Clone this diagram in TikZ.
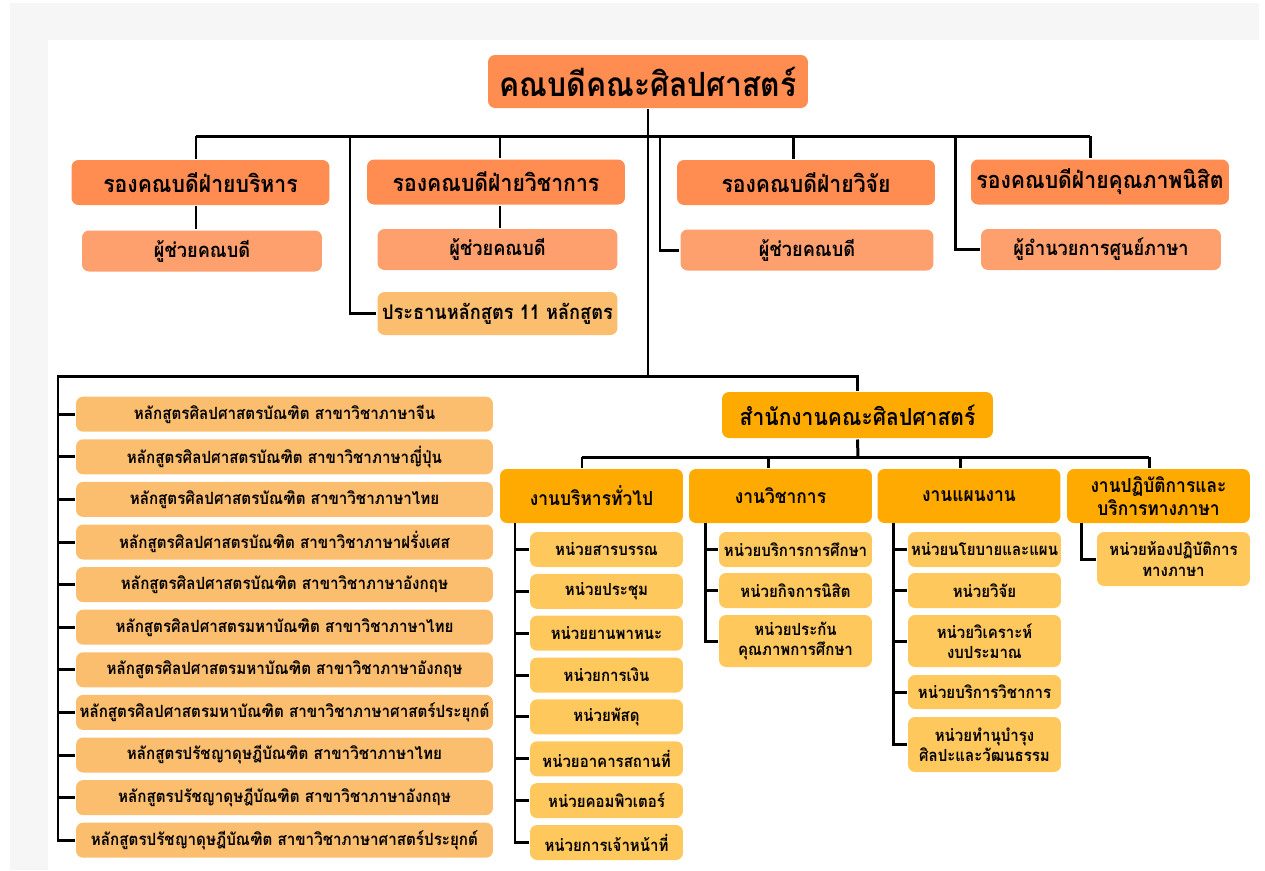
\documentclass[tikz,border=0pt]{standalone}
\usepackage{fontspec}
\newfontfamily\thaifont[Script=Thai,FakeStretch=0.9]{Loma}
\definecolor{bgC}{RGB}{246,246,246}
\definecolor{deanC}{RGB}{255,140,80}
\definecolor{asstC}{RGB}{253,160,110}
\definecolor{progC}{RGB}{251,190,110}
\definecolor{officeC}{RGB}{255,170,0}
\definecolor{unitC}{RGB}{255,200,92}
\begin{document}
\begin{tikzpicture}[x=0.02cm,y=-0.02cm,line width=1.7pt,
  box/.style={rounded corners=4pt,inner sep=0pt,align=center},
  dean/.style={box,fill=deanC,minimum width=6.4cm,minimum height=1.06cm,font=\thaifont\bfseries\fontsize{19}{22}\selectfont},
  vice/.style={box,fill=deanC,minimum width=5.16cm,minimum height=0.9cm,font=\thaifont\bfseries\fontsize{13.4}{16}\selectfont},
  asst/.style={box,fill=asstC,minimum width=4.8cm,minimum height=0.82cm,font=\thaifont\bfseries\fontsize{11.5}{14}\selectfont},
  chair/.style={asst,fill=progC,minimum height=0.86cm},
  prog/.style={box,fill=progC,minimum width=8.34cm,minimum height=0.7cm,font=\thaifont\bfseries\fontsize{9.6}{11.5}\selectfont},
  office/.style={box,fill=officeC,minimum width=5.42cm,minimum height=0.92cm,font=\thaifont\bfseries\fontsize{13.3}{16}\selectfont},
  dept/.style={box,fill=officeC,minimum width=3.66cm,minimum height=1.08cm,font=\thaifont\bfseries\fontsize{11}{13}\selectfont},
  unit/.style={box,fill=unitC,minimum width=3.06cm,minimum height=0.7cm,font=\thaifont\bfseries\fontsize{9.5}{11.5}\selectfont}]
   % 背景
   \useasboundingbox (0,0) rectangle (1265,870);
   \fill[bgC] (10,3) rectangle (1259,40);
   \fill[bgC] (10,40) rectangle (48,870);

   % 学部長・副学部長
   \node[dean] (top) at (648,81.5) {คณบดีคณะศิลปศาสตร์};
   \node[vice] (vA) at (200.5,182.5) {รองคณบดีฝ่ายบริหาร};
   \node[vice] (vB) at (496,182) {รองคณบดีฝ่ายวิชาการ};
   \node[vice] (vC) at (806,182.5) {รองคณบดีฝ่ายวิจัย};
   \node[vice] (vD) at (1100,182) {รองคณบดีฝ่ายคุณภาพนิสิต};
   \node[asst] (aA) at (202,251) {ผู้ช่วยคณบดี};
   \node[asst] (aB) at (497.5,249.5) {ผู้ช่วยคณบดี};
   \node[chair] (pB) at (497.5,313.5) {ประธานหลักสูตร 11 หลักสูตร};
   \node[asst,minimum width=5.06cm] (aC) at (807,250) {ผู้ช่วยคณบดี};
   \node[asst] (aD) at (1101,249.5) {ผู้อำนวยการศูนย์ภาษา};

   \coordinate (bus) at (648,136);
   \coordinate (cA) at (196,136);
   \coordinate (cB) at (500,136);
   \coordinate (cC) at (793,136);
   \coordinate (cD) at (1090,136);
   \draw (top.south) -- (bus);
   \draw (cA) -- (cD);
   \draw (cA) -- (cA |- vA.north);
   \draw (cB) -- (cB |- vB.north);
   \draw (cC) -- (cC |- vC.north);
   \draw (cD) -- (cD |- vD.north);
   \draw (cA |- vA.south) -- (cA |- aA.north);
   \draw (cB |- vB.south) -- (cB |- aB.north);
   \coordinate (bB) at (350,136);
   \coordinate (bC) at (660,136);
   \coordinate (bD) at (955,136);
   \draw (bB) |- (pB.west);
   \draw (bC) |- (aC.west);
   \draw (bD) |- (aD.west);

   % 課程
   \node[prog] (p1) at (284.5,414.2) {หลักสูตรศิลปศาสตรบัณฑิต สาขาวิชาภาษาจีน};
   \node[prog] (p2) at (284.5,456.8) {หลักสูตรศิลปศาสตรบัณฑิต สาขาวิชาภาษาญี่ปุ่น};
   \node[prog] (p3) at (284.5,499.4) {หลักสูตรศิลปศาสตรบัณฑิต สาขาวิชาภาษาไทย};
   \node[prog] (p4) at (284.5,542.0) {หลักสูตรศิลปศาสตรบัณฑิต สาขาวิชาภาษาฝรั่งเศส};
   \node[prog] (p5) at (284.5,584.6) {หลักสูตรศิลปศาสตรบัณฑิต สาขาวิชาภาษาอังกฤษ};
   \node[prog] (p6) at (284.5,627.2) {หลักสูตรศิลปศาสตรมหาบัณฑิต สาขาวิชาภาษาไทย};
   \node[prog] (p7) at (284.5,669.8) {หลักสูตรศิลปศาสตรมหาบัณฑิต สาขาวิชาภาษาอังกฤษ};
   \node[prog] (p8) at (284.5,712.4) {หลักสูตรศิลปศาสตรมหาบัณฑิต สาขาวิชาภาษาศาสตร์ประยุกต์};
   \node[prog] (p9) at (284.5,755.0) {หลักสูตรปรัชญาดุษฎีบัณฑิต สาขาวิชาภาษาไทย};
   \node[prog] (p10) at (284.5,797.6) {หลักสูตรปรัชญาดุษฎีบัณฑิต สาขาวิชาภาษาอังกฤษ};
   \node[prog] (p11) at (284.5,840.2) {หลักสูตรปรัชญาดุษฎีบัณฑิต สาขาวิชาภาษาศาสตร์ประยุกต์};

   \coordinate (trunk) at (648,376);
   \coordinate (pbus) at (58,376);
   \draw (bus) -- (trunk);
   \draw (trunk) -- (pbus) |- (p11.west);
   \foreach \i in {1,...,10} \draw (p\i.west) -- (p\i.west -| pbus);

   % 事務局
   \node[office] (office) at (857.5,415) {สำนักงานคณะศิลปศาสตร์};
   \draw (trunk) -| (office.north);
   \node[dept] (g1) at (591.5,496) {งานบริหารทั่วไป};
   \node[dept] (g2) at (780.5,496) {งานวิชาการ};
   \node[dept] (g3) at (969,496) {งานแผนงาน};
   \node[dept] (g4) at (1158.5,496) {งานปฏิบัติการและ\\บริการทางภาษา};
   \coordinate (obus) at (858,457);
   \coordinate (t1) at (582,457);
   \coordinate (t2) at (768,457);
   \coordinate (t3) at (960,457);
   \coordinate (t4) at (1149,457);
   \draw (office.south) -- (obus);
   \draw (t1) -- (t4);
   \foreach \i in {1,...,4} \draw (t\i) -- (t\i |- g\i.north);

   \node[unit] (ua1) at (606.5,549.5) {หน่วยสารบรรณ};
   \node[unit] (ua2) at (606.5,591.4) {หน่วยประชุม};
   \node[unit] (ua3) at (606.5,633.2) {หน่วยยานพาหนะ};
   \node[unit] (ua4) at (606.5,675.1) {หน่วยการเงิน};
   \node[unit] (ua5) at (606.5,716.9) {หน่วยพัสดุ};
   \node[unit] (ua6) at (606.5,758.8) {หน่วยอาคารสถานที่};
   \node[unit] (ua7) at (606.5,800.6) {หน่วยคอมพิวเตอร์};
   \node[unit] (ua8) at (606.5,842.5) {หน่วยการเจ้าหน้าที่};
   \coordinate (sA) at (515,523);
   \draw (sA) |- (ua8.west);
   \foreach \i in {1,...,7} \draw (ua\i.west) -- (ua\i.west -| sA);

   \node[unit] (ub1) at (795.5,549.5) {หน่วยบริการการศึกษา};
   \node[unit] (ub2) at (795.5,590.5) {หน่วยกิจการนิสิต};
   \node[unit,minimum height=1.04cm] (ub3) at (795.5,641) {หน่วยประกัน\\คุณภาพการศึกษา};
   \coordinate (sB) at (705,523);
   \draw (sB) |- (ub3.west);
   \foreach \i in {1,2} \draw (ub\i.west) -- (ub\i.west -| sB);

   \node[unit] (uc1) at (984.5,549.5) {หน่วยนโยบายและแผน};
   \node[unit] (uc2) at (984.5,590.5) {หน่วยวิจัย};
   \node[unit,minimum height=1.04cm] (uc3) at (984.5,641) {หน่วยวิเคราะห์\\งบประมาณ};
   \node[unit,minimum height=0.68cm] (uc4) at (984.5,692) {หน่วยบริการวิชาการ};
   \node[unit,minimum height=1.1cm] (uc5) at (984.5,744.5) {หน่วยทำนุบำรุง\\ศิลปะและวัฒนธรรม};
   \coordinate (sC) at (893,523);
   \draw (sC) |- (uc5.west);
   \foreach \i in {1,...,4} \draw (uc\i.west) -- (uc\i.west -| sC);

   \node[unit,minimum height=1.08cm] (ud1) at (1173.5,559) {หน่วยห้องปฏิบัติการ\\ทางภาษา};
   \coordinate (sD) at (1081,523);
   \draw (sD) |- (ud1.west);
\end{tikzpicture}
\end{document}
